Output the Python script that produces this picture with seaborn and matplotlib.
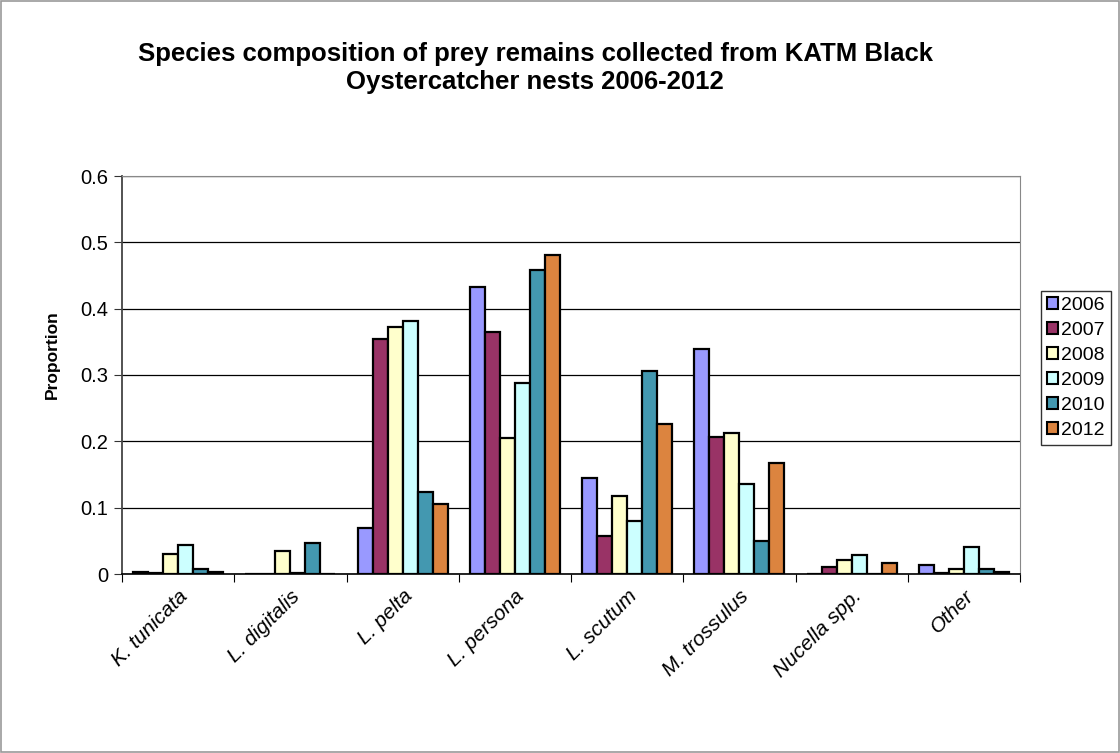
import pandas as pd
import matplotlib
matplotlib.use("Agg")
import matplotlib.pyplot as plt
import seaborn as sns

# ===== DADOS =====
species = ["K. tunicata", "L. digitalis", "L. pelta", "L. persona",
           "L. scutum", "M. trossulus", "Nucella spp.", "Other"]
years = ["2006", "2007", "2008", "2009", "2010", "2012"]

p2006 = [0.003, 0.0, 0.069, 0.433, 0.144, 0.339, 0.0, 0.013]
p2007 = [0.002, 0.0, 0.355, 0.365, 0.057, 0.207, 0.011, 0.002]
p2008 = [0.030, 0.034, 0.372, 0.205, 0.118, 0.213, 0.021, 0.008]
p2009 = [0.044, 0.002, 0.382, 0.288, 0.080, 0.136, 0.028, 0.040]
p2010 = [0.007, 0.047, 0.123, 0.458, 0.306, 0.050, 0.0, 0.007]
p2012 = [0.003, 0.0, 0.105, 0.481, 0.226, 0.167, 0.017, 0.003]

colors = ["#9999FF", "#993366", "#FFFFCC", "#CCFFFF", "#4398B0", "#DC843F"]

# ===== MONTAGEM =====
series = [p2006, p2007, p2008, p2009, p2010, p2012]
rows = []
for year, vals in zip(years, series):
    for sp, v in zip(species, vals):
        rows.append({"species": sp, "year": year, "proportion": v})
df = pd.DataFrame(rows)

sns.set_style("white")
plt.rcParams["font.family"] = ["Liberation Sans", "DejaVu Sans"]
plt.rcParams["text.color"] = "black"
plt.rcParams["axes.labelcolor"] = "black"
plt.rcParams["xtick.color"] = "black"
plt.rcParams["ytick.color"] = "black"

fig = plt.figure(figsize=(11.2, 7.53), dpi=100)
ax = fig.add_axes([122 / 1120, 1 - 574 / 753, (1020 - 122) / 1120, (574 - 176) / 753])

sns.barplot(data=df, x="species", y="proportion", hue="year", hue_order=years,
            palette=colors, width=0.8, edgecolor="black", linewidth=1.6,
            saturation=1, ax=ax)

ax.set_ylim(0, 0.6)
ax.set_yticks([0, 0.1, 0.2, 0.3, 0.4, 0.5, 0.6])
ax.set_yticklabels(["0", "0.1", "0.2", "0.3", "0.4", "0.5", "0.6"], fontsize=14.5)
ax.set_xlim(-0.5, len(species) - 0.5)
ax.yaxis.grid(True, color="black", linewidth=0.9)
ax.set_axisbelow(True)

# ticks entre grupos, rótulos no centro
ax.set_xticks([i - 0.5 for i in range(len(species) + 1)], minor=False)
ax.set_xticklabels([])
ax.set_xticks(range(len(species)), minor=True)
ax.set_xticklabels(species, minor=True, rotation=45, ha="right",
                   rotation_mode="anchor", style="italic", fontsize=15)
ax.tick_params(axis="x", which="major", length=6, direction="out", color="black", bottom=True)
ax.tick_params(axis="x", which="minor", length=0, pad=9)
ax.tick_params(axis="y", length=6, direction="out", color="#333333", left=True, pad=4)

for side in ["top", "right"]:
    ax.spines[side].set_color("#888888")
ax.spines["left"].set_color("#444444")
ax.spines["left"].set_linewidth(1.3)
ax.spines["bottom"].set_color("black")
ax.spines["bottom"].set_linewidth(1.2)

ax.set_xlabel("")
ax.set_ylabel("Proportion", fontsize=12.5, fontweight="bold")
ax.yaxis.set_label_coords(-0.069, 0.55)

fig.suptitle("Species composition of prey remains collected from KATM Black\nOystercatcher nests 2006-2012",
             x=0.478, y=0.944, fontsize=18.5, fontweight="bold", linespacing=1.2)

leg = ax.legend(loc="upper left", bbox_to_anchor=(1.0234, 0.711), frameon=True,
                fontsize=14, handlelength=0.55, handleheight=0.55,
                handletextpad=0.2, borderpad=0.3, labelspacing=0.41,
                borderaxespad=0, fancybox=False)
leg.get_frame().set_edgecolor("black")
leg.get_frame().set_linewidth(1.0)
for h in leg.legend_handles:
    h.set_edgecolor("black")
    h.set_linewidth(1.5)

fig.patches.append(plt.Rectangle((0.001, 0.001), 0.998, 0.998, transform=fig.transFigure,
                                 fill=False, edgecolor="#999999", linewidth=1.2))

fig.savefig("out.png", dpi=100)
